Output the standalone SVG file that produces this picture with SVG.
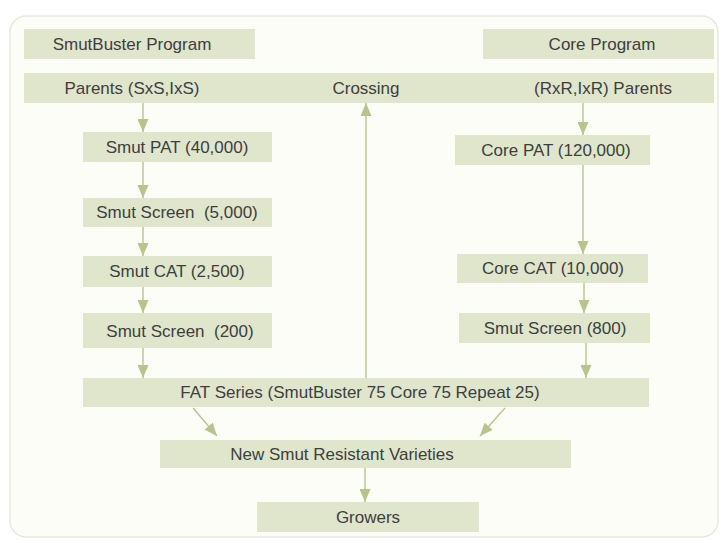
<svg xmlns="http://www.w3.org/2000/svg" width="723" height="542" viewBox="0 0 723 542">
  <defs>
    <style>
      .frame { fill: #fcfdf7; stroke: #e6e7e0; stroke-width: 1.5; }
      .box { fill: #dfe6cc; }
      .lbl { font-family: "Liberation Sans", Arial, sans-serif; font-size: 17px; fill: #3e3e3e; text-anchor: middle; }
      .conn { stroke: #b7c48c; stroke-width: 1.4; fill: none; marker-end: url(#ah); }
    </style>
    <marker id="ah" viewBox="0 0 13 11" refX="13" refY="5.5" markerWidth="13" markerHeight="11" orient="auto" markerUnits="userSpaceOnUse">
      <path d="M0,0 L13,5.5 L0,11 z" fill="#b7c48c"/>
    </marker>
  </defs>
  <rect width="723" height="542" fill="#ffffff"/>
  <rect class="frame" x="10" y="16" width="708" height="521" rx="16" ry="16"/>

  <g id="smutbuster-program">
    <rect class="box" x="24" y="29" width="231" height="30"/>
    <text class="lbl" x="132" y="50">SmutBuster Program</text>
  </g>
  <g id="core-program">
    <rect class="box" x="483" y="29" width="231" height="30"/>
    <text class="lbl" x="602" y="50">Core Program</text>
  </g>

  <g id="parents-sxs">
    <rect class="box" x="24" y="73" width="224" height="30"/>
    <text class="lbl" x="132" y="94">Parents (SxS,IxS)</text>
  </g>
  <g id="crossing">
    <rect class="box" x="248" y="73" width="238" height="30"/>
    <text class="lbl" x="366" y="94">Crossing</text>
  </g>
  <g id="parents-rxr">
    <rect class="box" x="486" y="73" width="228" height="30"/>
    <text class="lbl" x="603" y="94">(RxR,IxR) Parents</text>
  </g>

  <g id="smut-pat">
    <rect class="box" x="83" y="132" width="189" height="30"/>
    <text class="lbl" x="177" y="153">Smut PAT (40,000)</text>
  </g>
  <g id="smut-screen-5000">
    <rect class="box" x="83" y="198" width="189" height="29"/>
    <text class="lbl" x="177" y="218" xml:space="preserve">Smut Screen  (5,000)</text>
  </g>
  <g id="smut-cat">
    <rect class="box" x="83" y="256" width="189" height="31"/>
    <text class="lbl" x="177" y="277">Smut CAT (2,500)</text>
  </g>
  <g id="smut-screen-200">
    <rect class="box" x="83" y="313" width="189" height="35"/>
    <text class="lbl" x="180" y="337" xml:space="preserve">Smut Screen  (200)</text>
  </g>

  <g id="core-pat">
    <rect class="box" x="455" y="135" width="195" height="30"/>
    <text class="lbl" x="556" y="156">Core PAT (120,000)</text>
  </g>
  <g id="core-cat">
    <rect class="box" x="457" y="254" width="191" height="29"/>
    <text class="lbl" x="553" y="274">Core CAT (10,000)</text>
  </g>
  <g id="smut-screen-800">
    <rect class="box" x="459" y="313" width="191" height="30"/>
    <text class="lbl" x="555" y="334">Smut Screen (800)</text>
  </g>

  <g id="fat-series">
    <rect class="box" x="83" y="378" width="566" height="29"/>
    <text class="lbl" x="360" y="398">FAT Series (SmutBuster 75 Core 75 Repeat 25)</text>
  </g>
  <g id="new-varieties">
    <rect class="box" x="160" y="440" width="411" height="28"/>
    <text class="lbl" x="342" y="460">New Smut Resistant Varieties</text>
  </g>
  <g id="growers">
    <rect class="box" x="257" y="502" width="222" height="30"/>
    <text class="lbl" x="368" y="523">Growers</text>
  </g>

  <g id="connectors">
    <line class="conn" x1="143" y1="103" x2="143" y2="132"/>
    <line class="conn" x1="143" y1="162" x2="143" y2="198"/>
    <line class="conn" x1="143" y1="227" x2="143" y2="256"/>
    <line class="conn" x1="143" y1="287" x2="143" y2="313"/>
    <line class="conn" x1="143" y1="348" x2="143" y2="378"/>
    <line class="conn" x1="583" y1="103" x2="583" y2="135"/>
    <line class="conn" x1="583" y1="165" x2="583" y2="254"/>
    <line class="conn" x1="584" y1="283" x2="584" y2="313"/>
    <line class="conn" x1="586" y1="343" x2="586" y2="378"/>
    <line class="conn" x1="366" y1="378" x2="366" y2="103"/>
    <line class="conn" x1="193" y1="408" x2="217" y2="436"/>
    <line class="conn" x1="505" y1="408" x2="480" y2="436"/>
    <line class="conn" x1="365" y1="468" x2="365" y2="502"/>
  </g>
</svg>
